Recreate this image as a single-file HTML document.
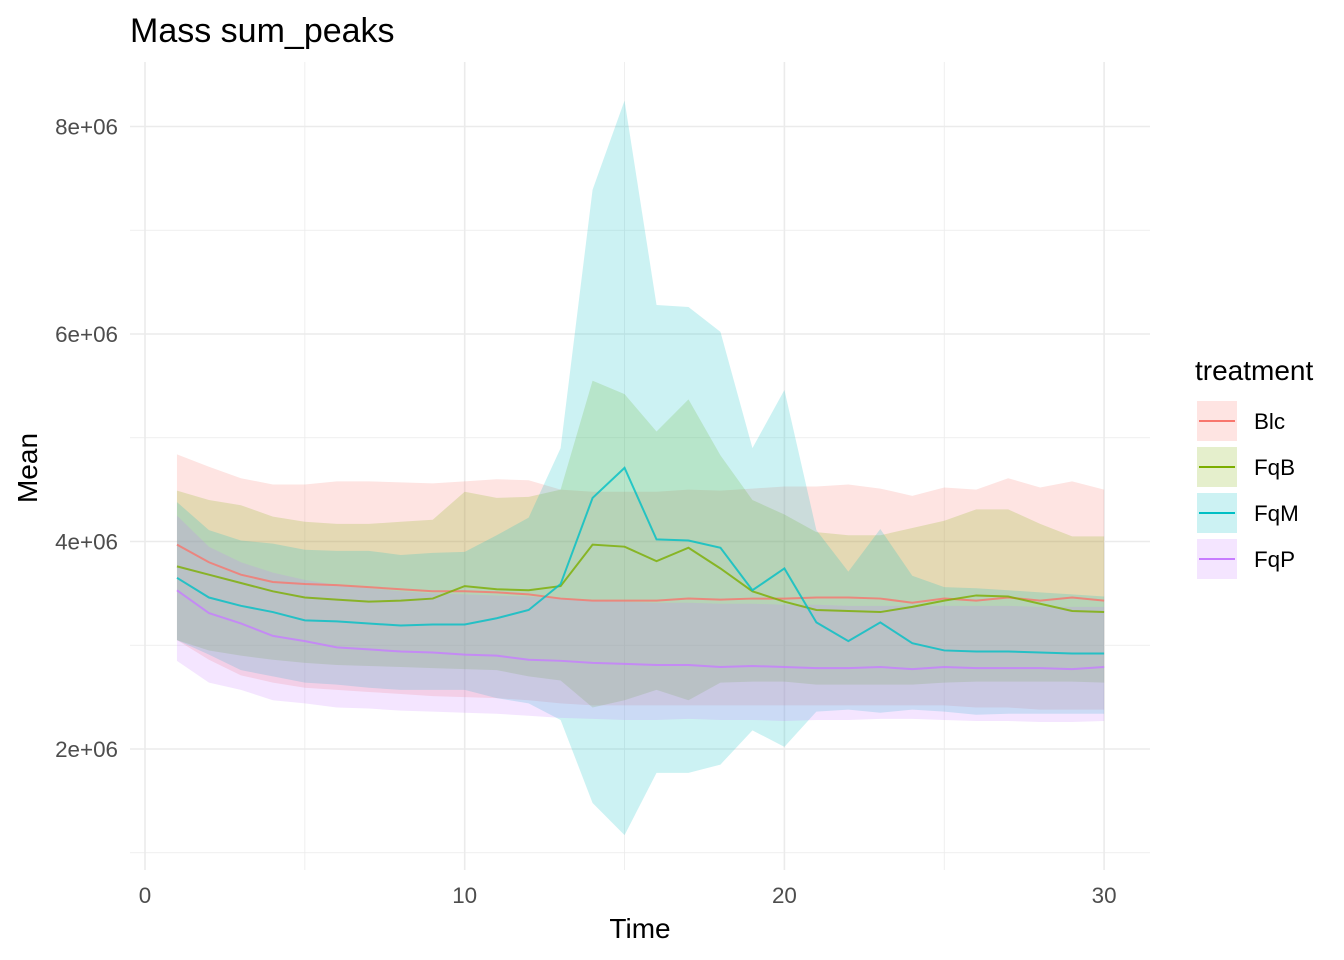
<!DOCTYPE html>
<html><head><meta charset="utf-8"><style>
body{margin:0;background:#fff;}
svg{display:block;font-family:"Liberation Sans",sans-serif;}
</style></head><body>
<svg id="chart" width="1344" height="960">
<rect width="1344" height="960" fill="#fff"/>
<text x="130" y="42" font-size="34" fill="#000">Mass sum_peaks</text>
<g id="grid"></g>
<g id="ribbons"></g>
<g id="lines"></g>
<g id="axes"></g>
<text x="640" y="938" font-size="28" text-anchor="middle">Time</text>
<text transform="translate(37,468) rotate(-90)" font-size="28" text-anchor="middle">Mean</text>
<g id="legend">
<text x="1195" y="380" font-size="28">treatment</text>
</g>
</svg>
<script>
const times = Array.from({length:30},(_,i)=>i+1);
const groups = ["Blc","FqB","FqM","FqP"];
const colors = ["#F8766D","#7CAE00","#00BFC4","#C77CFF"];
const blcMean=[3.97,3.80,3.68,3.61,3.59,3.58,3.56,3.54,3.52,3.52,3.51,3.49,3.45,3.43,3.43,3.43,3.45,3.44,3.45,3.45,3.46,3.46,3.45,3.41,3.45,3.43,3.46,3.43,3.46,3.43];
const blcUpper=[4.84,4.72,4.61,4.55,4.55,4.58,4.58,4.57,4.56,4.58,4.60,4.59,4.50,4.48,4.48,4.48,4.50,4.49,4.51,4.53,4.53,4.55,4.51,4.44,4.52,4.50,4.61,4.52,4.58,4.50];
const blcLower=[3.05,2.86,2.71,2.64,2.59,2.57,2.55,2.53,2.51,2.50,2.49,2.47,2.44,2.42,2.42,2.42,2.42,2.42,2.42,2.42,2.42,2.42,2.42,2.42,2.42,2.40,2.40,2.38,2.38,2.38];
const fqbMean=[3.76,3.68,3.60,3.52,3.46,3.44,3.42,3.43,3.45,3.57,3.54,3.53,3.57,3.97,3.95,3.81,3.94,3.74,3.52,3.42,3.34,3.33,3.32,3.37,3.43,3.48,3.47,3.40,3.33,3.32];
const fqbUpper=[4.49,4.40,4.35,4.24,4.19,4.17,4.17,4.19,4.21,4.48,4.42,4.43,4.50,5.55,5.42,5.06,5.37,4.83,4.40,4.26,4.09,4.06,4.06,4.13,4.20,4.31,4.31,4.17,4.05,4.05];
const fqbLower=[3.05,2.95,2.90,2.86,2.83,2.81,2.80,2.79,2.78,2.77,2.76,2.70,2.66,2.40,2.47,2.57,2.47,2.64,2.65,2.65,2.62,2.62,2.62,2.62,2.64,2.65,2.65,2.65,2.65,2.64];
const fqmMean=[3.65,3.46,3.38,3.32,3.24,3.23,3.21,3.19,3.20,3.20,3.26,3.34,3.59,4.42,4.71,4.02,4.01,3.94,3.53,3.74,3.22,3.04,3.22,3.02,2.95,2.94,2.94,2.93,2.92,2.92];
const fqmUpper=[4.38,4.11,4.01,3.98,3.92,3.91,3.91,3.87,3.89,3.90,4.06,4.23,4.90,7.39,8.25,6.28,6.26,6.02,4.90,5.46,4.11,3.71,4.12,3.67,3.56,3.55,3.53,3.51,3.49,3.47];
const fqmLower=[3.05,2.91,2.76,2.70,2.64,2.62,2.59,2.57,2.57,2.57,2.49,2.44,2.28,1.48,1.17,1.77,1.77,1.85,2.18,2.02,2.36,2.38,2.35,2.38,2.36,2.33,2.34,2.34,2.34,2.34];
const fqpMean=[3.53,3.31,3.21,3.09,3.04,2.98,2.96,2.94,2.93,2.91,2.90,2.86,2.85,2.83,2.82,2.81,2.81,2.79,2.80,2.79,2.78,2.78,2.79,2.77,2.79,2.78,2.78,2.78,2.77,2.79];
const fqpUpper=[4.25,3.95,3.80,3.70,3.63,3.58,3.55,3.52,3.50,3.49,3.48,3.47,3.45,3.43,3.42,3.41,3.41,3.40,3.40,3.39,3.39,3.38,3.38,3.38,3.38,3.38,3.38,3.37,3.37,3.37];
const fqpLower=[2.85,2.64,2.57,2.47,2.44,2.40,2.39,2.37,2.36,2.35,2.34,2.32,2.30,2.29,2.28,2.28,2.29,2.28,2.28,2.27,2.28,2.28,2.29,2.29,2.28,2.27,2.27,2.26,2.26,2.27];
const xTicks=[0,10,20,30];
const yTicks=[2,4,6,8];
const yTickLabels=["2e+06","4e+06","6e+06","8e+06"];

const means=[blcMean,fqbMean,fqmMean,fqpMean];
const uppers=[blcUpper,fqbUpper,fqmUpper,fqpUpper];
const lowers=[blcLower,fqbLower,fqmLower,fqpLower];
const NS="http://www.w3.org/2000/svg";
const X=t=>145+t*31.97;
const Y=v=>956.5-v*103.75;
const L=130,R=1150,T=62,B=870;
function mk(tag,attrs,parent){const e=document.createElementNS(NS,tag);for(const k in attrs)e.setAttribute(k,attrs[k]);parent.appendChild(e);return e;}
const grid=document.getElementById('grid');
[5,15,25].forEach(t=>{const e=mk('line',{x1:X(t),x2:X(t),y1:T,y2:B,stroke:'#ebebeb','stroke-width':0.8},grid);

});
[1,3,5,7].forEach(v=>{const e=mk('line',{x1:L,x2:R,y1:Y(v),y2:Y(v),stroke:'#ebebeb','stroke-width':0.8},grid);

});
xTicks.forEach(t=>{const e=mk('line',{x1:X(t),x2:X(t),y1:T,y2:B,stroke:'#ebebeb','stroke-width':1.6},grid);

});
yTicks.forEach(v=>{const e=mk('line',{x1:L,x2:R,y1:Y(v),y2:Y(v),stroke:'#ebebeb','stroke-width':1.6},grid);

});
const axes=document.getElementById('axes');
xTicks.forEach(t=>{const e=mk('text',{x:X(t),y:903,'font-size':22.4,fill:'#4d4d4d','text-anchor':'middle'},axes);e.textContent=t;

});
yTicks.forEach((v,i)=>{const e=mk('text',{x:118,y:Y(v)+8,'font-size':22.4,fill:'#4d4d4d','text-anchor':'end'},axes);e.textContent=yTickLabels[i];

});
const rib=document.getElementById('ribbons'),lin=document.getElementById('lines');
groups.forEach((g,gi)=>{
  let d=times.map((t,i)=>(i?'L':'M')+X(t)+','+Y(uppers[gi][i])).join('');
  for(let i=times.length-1;i>=0;i--)d+='L'+X(times[i])+','+Y(lowers[gi][i]);
  const p=mk('path',{d:d+'Z',fill:colors[gi],'fill-opacity':0.2},rib);
  
  
});
groups.forEach((g,gi)=>{
  const pts=times.map((t,i)=>X(t)+','+Y(means[gi][i])).join(' ');
  const p=mk('polyline',{points:pts,fill:'none',stroke:colors[gi],'stroke-width':2,'stroke-opacity':0.8},lin);
  
  
});
const leg=document.getElementById('legend');
groups.forEach((g,gi)=>{
  const y=421+gi*46;
  const r=mk('rect',{x:1197,y:y-20,width:40,height:40,fill:colors[gi],'fill-opacity':0.2},leg);
  
  
  const l=mk('line',{x1:1199,x2:1235,y1:y,y2:y,stroke:colors[gi],'stroke-width':2},leg);
  
  
  const t=mk('text',{x:1254,y:y+8,'font-size':22.4},leg);t.textContent=g;
  
  
});
</script>
</body></html>
